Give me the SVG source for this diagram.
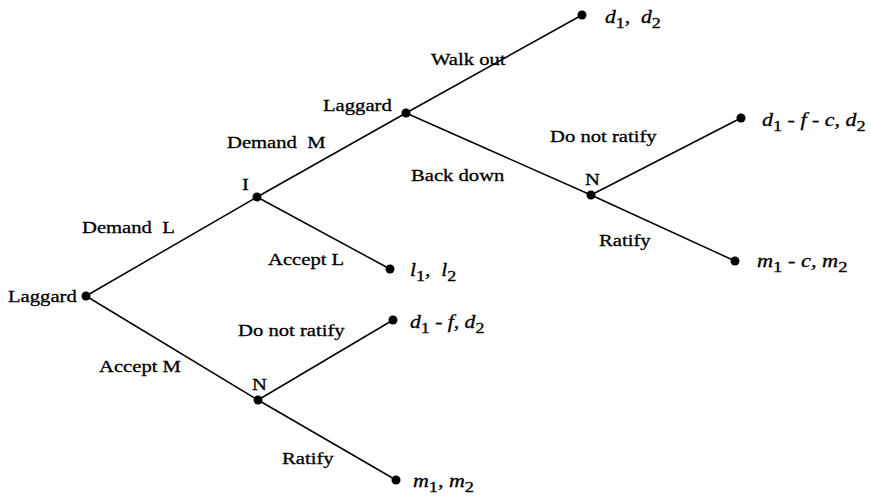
<svg xmlns="http://www.w3.org/2000/svg" width="871" height="498" viewBox="0 0 871 498">
<style>
text{font-family:"Liberation Serif","Times New Roman",serif;font-size:17.5px;fill:#000;stroke:#000;stroke-width:0.3;white-space:pre}
.i{font-style:italic;font-size:18px}
.s{font-style:normal;font-size:15px}
.n{font-style:normal}
line{stroke:#000;stroke-width:1.5}
circle{fill:#000}
</style>
<rect width="871" height="498" fill="#fff"/>
<g id="connectors">
<line x1="86" y1="296" x2="257" y2="197"/>
<line x1="86" y1="296" x2="258" y2="400"/>
<line x1="257" y1="197" x2="406" y2="113"/>
<line x1="257" y1="197" x2="390" y2="269"/>
<line x1="406" y1="113" x2="582" y2="15"/>
<line x1="406" y1="113" x2="591" y2="195"/>
<line x1="591" y1="195" x2="741" y2="118"/>
<line x1="591" y1="195" x2="735" y2="261"/>
<line x1="258" y1="400" x2="393" y2="320"/>
<line x1="258" y1="400" x2="396" y2="480"/>
<text transform="translate(82,233) scale(1.18,1)">Demand  L</text>
<text transform="translate(99,372) scale(1.18,1)">Accept M</text>
<text transform="translate(227,148) scale(1.18,1)">Demand  M</text>
<text transform="translate(268,265) scale(1.18,1)">Accept L</text>
<text transform="translate(238,336) scale(1.18,1)">Do not ratify</text>
<text transform="translate(282,464) scale(1.18,1)">Ratify</text>
<text transform="translate(431,65) scale(1.18,1)">Walk out</text>
<text transform="translate(411,181) scale(1.18,1)">Back down</text>
<text transform="translate(550,142) scale(1.18,1)">Do not ratify</text>
<text transform="translate(599,246) scale(1.18,1)">Ratify</text>
</g>
<g id="n-root"><circle cx="86" cy="296" r="4.5"/><text transform="translate(8,302) scale(1.18,1)">Laggard</text></g>
<g id="n-I"><circle cx="257" cy="197" r="4.5"/><text transform="translate(242,190) scale(1.18,1)">I</text></g>
<g id="n-laggard2"><circle cx="406" cy="113" r="4.5"/><text transform="translate(323,111) scale(1.18,1)">Laggard</text></g>
<g id="n-N1"><circle cx="591" cy="195" r="4.5"/><text transform="translate(585,185) scale(1.18,1)">N</text></g>
<g id="n-N2"><circle cx="258" cy="400" r="4.5"/><text transform="translate(252,390) scale(1.18,1)">N</text></g>
<g id="leaf-walk"><circle cx="582" cy="15" r="4.5"/><text class="i" transform="translate(605,23) scale(1.2,1)">d<tspan class="s" dy="5">1</tspan><tspan dy="-5">,  d</tspan><tspan class="s" dy="5">2</tspan></text></g>
<g id="leaf-notratify1"><circle cx="741" cy="118" r="4.5"/><text class="i" transform="translate(762,126) scale(1.22,1)">d<tspan class="s" dy="5">1</tspan><tspan class="n" dy="-5"> - </tspan>f<tspan class="n"> - </tspan>c, d<tspan class="s" dy="5">2</tspan></text></g>
<g id="leaf-ratify1"><circle cx="735" cy="261" r="4.5"/><text class="i" transform="translate(757,267) scale(1.24,1)">m<tspan class="s" dy="5">1</tspan><tspan class="n" dy="-5"> - </tspan>c, m<tspan class="s" dy="5">2</tspan></text></g>
<g id="leaf-acceptL"><circle cx="390" cy="269" r="4.5"/><text class="i" transform="translate(410,276) scale(1.2,1)">l<tspan class="s" dy="5">1</tspan><tspan dy="-5">,  l</tspan><tspan class="s" dy="5">2</tspan></text></g>
<g id="leaf-notratify2"><circle cx="393" cy="320" r="4.5"/><text class="i" transform="translate(410,328) scale(1.2,1)">d<tspan class="s" dy="5">1</tspan><tspan class="n" dy="-5"> - </tspan>f, d<tspan class="s" dy="5">2</tspan></text></g>
<g id="leaf-ratify2"><circle cx="396" cy="480" r="4.5"/><text class="i" transform="translate(413,487) scale(1.22,1)">m<tspan class="s" dy="5">1</tspan><tspan dy="-5">, m</tspan><tspan class="s" dy="5">2</tspan></text></g>
</svg>
